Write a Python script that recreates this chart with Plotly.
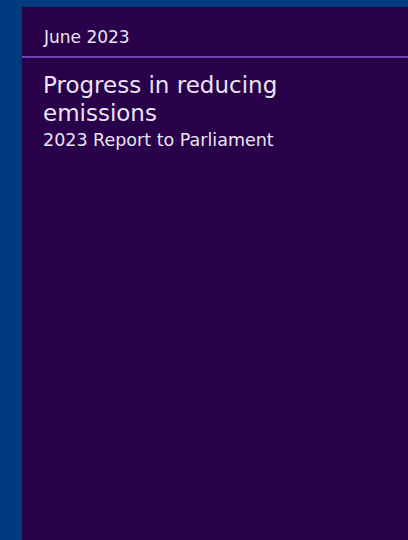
import plotly.graph_objects as go

# Text content of the cover
header_text = ["June 2023"]
title_lines = ["Progress in reducing", "emissions"]
subtitle_lines = ["2023 Report to Parliament"]

W, H = 408, 540
BLUE = "#023a7f"
PURPLE = "#29004a"
RULE = "#6c47b4"
TEXT = "#ebe3f4"
FONT = "DejaVu Sans"


def px(x):
    return x / W


def py(y):
    return 1 - y / H


fig = go.Figure()

shapes = [
    dict(type="rect", xref="paper", yref="paper", x0=px(22), x1=1.01, y0=-0.01, y1=py(7),
         fillcolor=PURPLE, line=dict(width=0), layer="below"),
    dict(type="line", xref="paper", yref="paper", x0=px(22), x1=1.01, y0=py(57), y1=py(57),
         line=dict(color=RULE, width=2)),
]

annotations = []
for i, t in enumerate(header_text):
    annotations.append(dict(text=t, x=px(41), y=py(37), xref="paper", yref="paper",
                            xanchor="left", yanchor="middle", showarrow=False,
                            font=dict(family=FONT, size=17, color=TEXT)))
for i, t in enumerate(title_lines):
    annotations.append(dict(text=t, x=px(41), y=py(85 + 28 * i), xref="paper", yref="paper",
                            xanchor="left", yanchor="middle", showarrow=False,
                            font=dict(family=FONT, size=23, color=TEXT)))
for i, t in enumerate(subtitle_lines):
    annotations.append(dict(text=t, x=px(41), y=py(140), xref="paper", yref="paper",
                            xanchor="left", yanchor="middle", showarrow=False,
                            font=dict(family=FONT, size=17.5, color=TEXT)))

fig.update_layout(
    width=W, height=H,
    margin=dict(l=0, r=0, t=0, b=0),
    paper_bgcolor=BLUE, plot_bgcolor="rgba(0,0,0,0)",
    xaxis=dict(visible=False), yaxis=dict(visible=False),
    shapes=shapes, annotations=annotations,
    showlegend=False,
)

fig.write_html("out.html", config={"displayModeBar": False},
               post_script="document.body.style.margin='0';document.body.style.overflow='hidden';")
